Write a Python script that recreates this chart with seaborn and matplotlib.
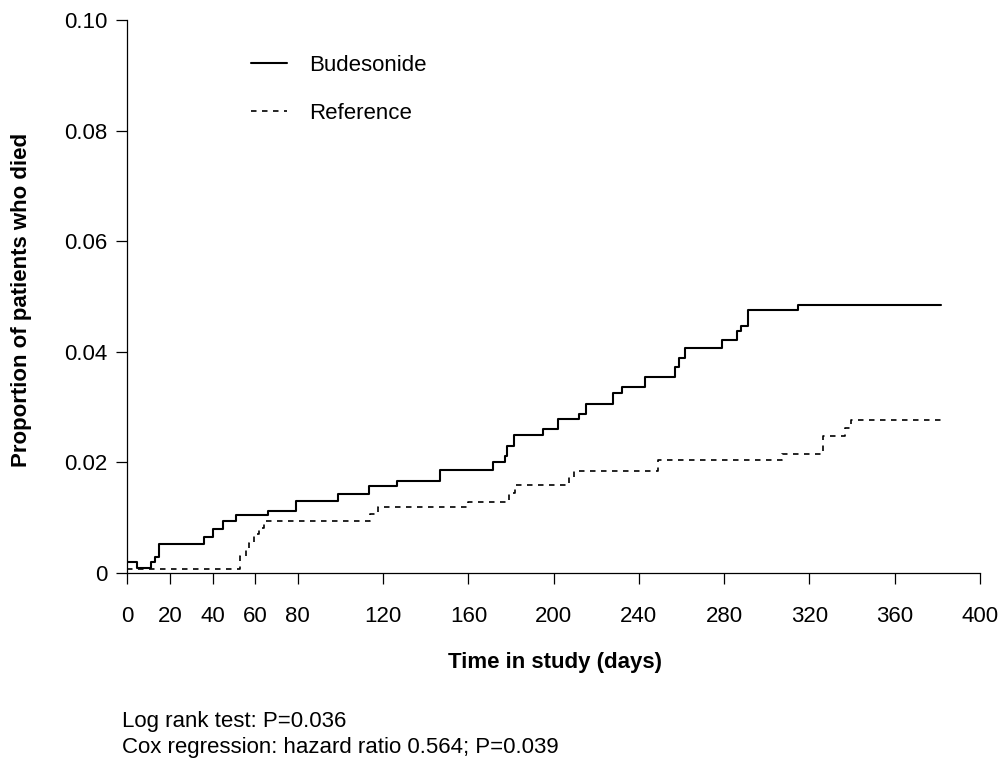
import numpy as np
import pandas as pd
import matplotlib
matplotlib.use("Agg")
import matplotlib.pyplot as plt
import seaborn as sns

# step points (day, cumulative proportion died)
bud_days = [0, 4.5, 11, 13, 14.7, 35.9, 40, 45, 51, 66, 79, 99, 113.4, 126.4,
            146.8, 171.4, 177.2, 178, 181.3, 195.2, 202, 211.8, 215, 228, 232,
            243, 257, 258.7, 261.8, 279, 285.8, 287.8, 291, 314.8, 381.7]
bud_prop = [0.0019, 0.0009, 0.0019, 0.0029, 0.0052, 0.0065, 0.0080, 0.0094,
            0.0104, 0.0113, 0.0130, 0.0142, 0.0157, 0.0166, 0.0186, 0.0201,
            0.0212, 0.0230, 0.0249, 0.0260, 0.0278, 0.0288, 0.0305, 0.0325,
            0.0337, 0.0355, 0.0373, 0.0388, 0.0406, 0.0421, 0.0438, 0.0447,
            0.0475, 0.0485, 0.0485]

ref_days = [0, 53, 55.5, 57.3, 59.4, 61.7, 64, 113.9, 117.8, 159.7, 178.9,
            182, 207, 209.6, 249, 307, 326.5, 336.7, 339.4, 381.7]
ref_prop = [0.0007, 0.0031, 0.0043, 0.0054, 0.0070, 0.0082, 0.0094, 0.0106,
            0.0119, 0.0128, 0.0145, 0.0159, 0.0174, 0.0184, 0.0204, 0.0216,
            0.0248, 0.0262, 0.0276, 0.0276]

x_ticks = [0, 20, 40, 60, 80, 120, 160, 200, 240, 280, 320, 360, 400]
y_ticks = [0, 0.02, 0.04, 0.06, 0.08, 0.10]
y_tick_labels = ["0", "0.02", "0.04", "0.06", "0.08", "0.10"]

sns.set_style("ticks")
plt.rcParams['font.family'] = ['Liberation Sans', 'DejaVu Sans']
plt.rcParams['font.size'] = 16
plt.rcParams['text.color'] = 'black'
plt.rcParams['axes.labelcolor'] = 'black'

df_bud = pd.DataFrame({"day": bud_days, "prop": bud_prop})
df_ref = pd.DataFrame({"day": ref_days, "prop": ref_prop})

fig = plt.figure(figsize=(10.02, 7.64), dpi=100)
ax = fig.add_axes([127.3 / 1002, 1 - 573 / 764, 852.7 / 1002, 553 / 764])

sns.lineplot(data=df_bud, x="day", y="prop", ax=ax, color="black", lw=1.5,
             drawstyle="steps-post", label="Budesonide", estimator=None)
sns.lineplot(data=df_ref, x="day", y="prop", ax=ax, color="black", lw=1.2,
             drawstyle="steps-post", dashes=False, label="Reference",
             estimator=None)
ax.lines[1].set_dashes([3.3, 3.3])

ax.set_xlim(0, 400)
ax.set_ylim(0, 0.10)
ax.set_xticks(x_ticks)
ax.set_yticks(y_ticks)
ax.set_yticklabels(y_tick_labels)
ax.tick_params(axis="both", direction="out", length=8, width=0.9,
               colors="black", labelsize=16)
ax.tick_params(axis="x", pad=15.5)
ax.tick_params(axis="y", pad=6)
for s in ["top", "right"]:
    ax.spines[s].set_visible(False)
for s in ["left", "bottom"]:
    ax.spines[s].set_linewidth(0.9)
    ax.spines[s].set_color("black")
ax.spines["left"].set_bounds(0, 0.10)
ax.spines["bottom"].set_bounds(0, 400)

ax.set_xlabel("Time in study (days)", fontweight="bold", fontsize=16)
ax.set_ylabel("Proportion of patients who died", fontweight="bold", fontsize=16)
ax.xaxis.set_label_coords(0.502, -0.1435)
ax.yaxis.set_label_coords(-0.1115, 0.494)

ax.legend(frameon=False, loc="upper left", fontsize=16,
          bbox_to_anchor=(251 / 1002, 1 - 55 / 764),
          bbox_transform=fig.transFigure, borderpad=0, borderaxespad=0,
          handlelength=1.6, handletextpad=1.0, labelspacing=1.2)

fig.text(122 / 1002, 1 - 722 / 764, "Log rank test: P=0.036",
         fontsize=16, va="center", ha="left")
fig.text(122 / 1002, 1 - 747 / 764,
         "Cox regression: hazard ratio 0.564; P=0.039",
         fontsize=16, va="center", ha="left")

fig.savefig("out.png", dpi=100)
